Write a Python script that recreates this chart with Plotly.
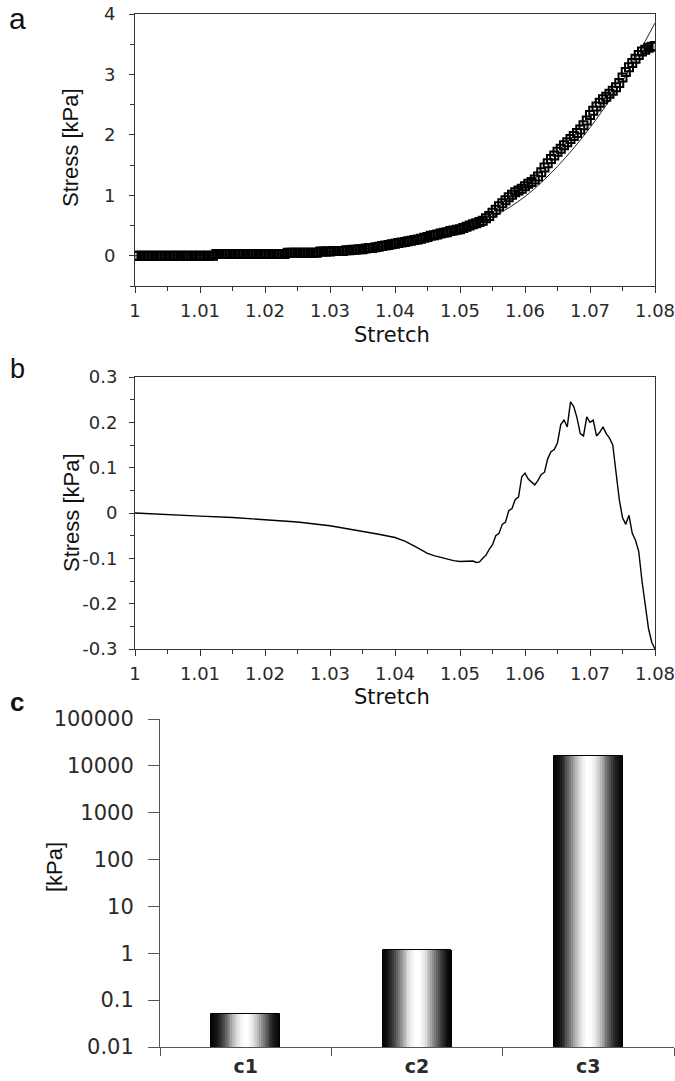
import plotly.graph_objects as go
import math

# ---------------- data ----------------
# Panel a: measured stress (markers) and fitted curve
stretch_a = [1.0000, 1.0005, 1.0010, 1.0015, 1.0020, 1.0025, 1.0030, 1.0035, 1.0040, 1.0045,
             1.0050, 1.0055, 1.0060, 1.0065, 1.0070, 1.0075, 1.0080, 1.0085, 1.0090, 1.0095,
             1.0100, 1.0105, 1.0110, 1.0115, 1.0120, 1.0125, 1.0130, 1.0135, 1.0140, 1.0145,
             1.0150, 1.0155, 1.0160, 1.0165, 1.0170, 1.0175, 1.0180, 1.0185, 1.0190, 1.0195,
             1.0200, 1.0205, 1.0210, 1.0215, 1.0220, 1.0225, 1.0230, 1.0235, 1.0240, 1.0245,
             1.0250, 1.0255, 1.0260, 1.0265, 1.0270, 1.0275, 1.0280, 1.0285, 1.0290, 1.0295,
             1.0300, 1.0305, 1.0310, 1.0315, 1.0320, 1.0325, 1.0330, 1.0335, 1.0340, 1.0345,
             1.0350, 1.0355, 1.0360, 1.0365, 1.0370, 1.0375, 1.0380, 1.0385, 1.0390, 1.0395,
             1.0400, 1.0405, 1.0410, 1.0415, 1.0420, 1.0425, 1.0430, 1.0435, 1.0440, 1.0445,
             1.0450, 1.0455, 1.0460, 1.0465, 1.0470, 1.0475, 1.0480, 1.0485, 1.0490, 1.0495,
             1.0500, 1.0505, 1.0510, 1.0515, 1.0520, 1.0525, 1.0530, 1.0535, 1.0540, 1.0545,
             1.0550, 1.0555, 1.0560, 1.0565, 1.0570, 1.0575, 1.0580, 1.0585, 1.0590, 1.0595,
             1.0600, 1.0605, 1.0610, 1.0615, 1.0620, 1.0625, 1.0630, 1.0635, 1.0640, 1.0645,
             1.0650, 1.0655, 1.0660, 1.0665, 1.0670, 1.0675, 1.0680, 1.0685, 1.0690, 1.0695,
             1.0700, 1.0705, 1.0710, 1.0715, 1.0720, 1.0725, 1.0730, 1.0735, 1.0740, 1.0745,
             1.0750, 1.0755, 1.0760, 1.0765, 1.0770, 1.0775, 1.0780, 1.0785, 1.0790, 1.0795,
             1.0800]
stress_a = [0.00, 0.00, 0.00, 0.00, 0.00, 0.00, 0.00, 0.00, 0.00, 0.00,
            0.00, 0.00, 0.00, 0.00, 0.00, 0.00, 0.00, 0.00, 0.00, 0.00,
            0.00, 0.00, 0.00, 0.00, 0.00, 0.03, 0.03, 0.03, 0.03, 0.03,
            0.03, 0.03, 0.03, 0.03, 0.03, 0.03, 0.03, 0.03, 0.03, 0.03,
            0.03, 0.03, 0.03, 0.03, 0.03, 0.03, 0.03, 0.05, 0.05, 0.05,
            0.05, 0.05, 0.05, 0.05, 0.05, 0.05, 0.05, 0.07, 0.07, 0.07,
            0.07, 0.08, 0.08, 0.08, 0.08, 0.09, 0.09, 0.10, 0.10, 0.11,
            0.11, 0.12, 0.13, 0.13, 0.14, 0.15, 0.16, 0.17, 0.18, 0.19,
            0.20, 0.21, 0.22, 0.23, 0.24, 0.25, 0.26, 0.27, 0.28, 0.30,
            0.31, 0.33, 0.34, 0.35, 0.37, 0.38, 0.39, 0.41, 0.42, 0.43,
            0.44, 0.46, 0.48, 0.50, 0.52, 0.54, 0.56, 0.58, 0.62, 0.66,
            0.71, 0.76, 0.82, 0.87, 0.92, 0.97, 1.01, 1.05, 1.08, 1.11,
            1.15, 1.19, 1.22, 1.26, 1.31, 1.38, 1.46, 1.53, 1.60, 1.66,
            1.72, 1.77, 1.83, 1.88, 1.93, 1.98, 2.03, 2.09, 2.16, 2.24,
            2.33, 2.40, 2.47, 2.53, 2.59, 2.63, 2.68, 2.73, 2.79, 2.86,
            2.95, 3.04, 3.12, 3.19, 3.26, 3.32, 3.38, 3.41, 3.44, 3.46,
            3.47]
stretch_fit = [1.000, 1.010, 1.020, 1.030, 1.035, 1.040, 1.045, 1.050, 1.055,
               1.060, 1.065, 1.070, 1.075, 1.080]
stress_fit = [0.00, 0.01, 0.03, 0.07, 0.11, 0.18, 0.28, 0.42, 0.64,
              0.98, 1.48, 2.12, 2.90, 3.85]

# Panel b: difference curve
stretch_b = [1.000, 1.005, 1.010, 1.015, 1.020, 1.025, 1.030, 1.0325, 1.035, 1.0375,
             1.040, 1.0415, 1.043, 1.044, 1.045, 1.046, 1.047, 1.048, 1.049, 1.050,
             1.051, 1.052, 1.0525, 1.053, 1.0535, 1.054, 1.0545, 1.055, 1.0555, 1.056,
             1.0565, 1.057, 1.0575, 1.058, 1.0585, 1.059, 1.0595, 1.060, 1.0605, 1.061,
             1.0615, 1.062, 1.0625, 1.063, 1.0635, 1.064, 1.0645, 1.065, 1.0655, 1.066,
             1.0665, 1.067, 1.0675, 1.068, 1.0685, 1.069, 1.0695, 1.070, 1.0705, 1.071,
             1.0715, 1.072, 1.0725, 1.073, 1.0735, 1.074, 1.0745, 1.075, 1.0755, 1.076,
             1.0765, 1.077, 1.0775, 1.078, 1.0785, 1.079, 1.0795, 1.080]
stress_b = [0.000, -0.004, -0.007, -0.010, -0.015, -0.020, -0.028, -0.034, -0.041, -0.047,
            -0.054, -0.062, -0.073, -0.081, -0.089, -0.094, -0.098, -0.101, -0.105, -0.107,
            -0.106, -0.106, -0.109, -0.108, -0.100, -0.093, -0.080, -0.070, -0.050, -0.045,
            -0.025, -0.020, 0.005, 0.010, 0.030, 0.035, 0.080, 0.088, 0.075, 0.068,
            0.062, 0.072, 0.085, 0.090, 0.120, 0.135, 0.140, 0.155, 0.195, 0.205,
            0.190, 0.245, 0.235, 0.210, 0.175, 0.170, 0.212, 0.200, 0.205, 0.170,
            0.178, 0.190, 0.175, 0.165, 0.150, 0.090, 0.030, -0.010, -0.025, -0.005,
            -0.045, -0.060, -0.085, -0.150, -0.205, -0.255, -0.285, -0.300]

# Panel c: parameters (log scale)
categories_c = ["c1", "c2", "c3"]
values_c = [0.05, 1.15, 16000]

# tick labels
xtick_vals = [1.00, 1.01, 1.02, 1.03, 1.04, 1.05, 1.06, 1.07, 1.08]
xtick_text = ["1", "1.01", "1.02", "1.03", "1.04", "1.05", "1.06", "1.07", "1.08"]
ytick_a_vals = [0, 1, 2, 3, 4]
ytick_a_text = ["0", "1", "2", "3", "4"]
ytick_b_vals = [-0.3, -0.2, -0.1, 0, 0.1, 0.2, 0.3]
ytick_b_text = ["-0.3", "-0.2", "-0.1", "0", "0.1", "0.2", "0.3"]
ytick_c_vals = [0.01, 0.1, 1, 10, 100, 1000, 10000, 100000]
ytick_c_text = ["0.01", "0.1", "1", "10", "100", "1000", "10000", "100000"]

# ---------------- figure ----------------
W, H = 675, 1081
TICKFONT = dict(family="DejaVu Sans", size=18, color="#2a2a2a")
LINE = "#333333"

fig = go.Figure()

# panel a
fig.add_trace(go.Scatter(x=stretch_fit, y=stress_fit, mode="lines", line=dict(color="#222", width=1, shape="spline"),
                         xaxis="x", yaxis="y", showlegend=False))
fig.add_trace(go.Scatter(x=stretch_a, y=stress_a, mode="markers",
                         marker=dict(symbol="square-open", size=8, color="black", line=dict(width=2, color="black")),
                         xaxis="x", yaxis="y", showlegend=False))

# panel b
fig.add_trace(go.Scatter(x=stretch_b, y=stress_b, mode="lines", line=dict(color="black", width=1.4),
                         xaxis="x2", yaxis="y2", showlegend=False))

# panel c: cylindrical gradient bars made of thin vertical strips
N = 36
bar_w = 0.4
for i in range(N):
    t = (i + 0.5) / N
    g = int(round(8 + 247 * math.sin(math.pi * t) ** 2))
    col = f"rgb({g},{g},{g})"
    fig.add_trace(go.Bar(x=categories_c, y=values_c, xaxis="x3", yaxis="y3",
                         width=bar_w / N * 1.15, offset=-bar_w / 2 + i * bar_w / N,
                         marker=dict(color=col, line=dict(width=0)), showlegend=False))
fig.add_trace(go.Bar(x=categories_c, y=values_c, xaxis="x3", yaxis="y3",
                     width=bar_w, offset=-bar_w / 2,
                     marker=dict(color="rgba(0,0,0,0)", line=dict(width=1, color="black")), showlegend=False))

def py(pix):
    return 1 - pix / H

def px(pix):
    return pix / W

common_x = dict(range=[1.0, 1.08], tickvals=xtick_vals, ticktext=xtick_text, ticks="outside", ticklen=6,
                tickcolor=LINE, tickwidth=1, showline=True, linecolor=LINE, linewidth=1, mirror=True,
                showgrid=False, zeroline=False, tickfont=TICKFONT, ticklabelstandoff=2, automargin=False,
                ticklabeloverflow="allow",
                minor=dict(ticks="outside", ticklen=4, dtick=0.005, tick0=1.0, tickcolor=LINE, showgrid=False))

fig.update_layout(
    width=W, height=H, margin=dict(l=0, r=0, t=0, b=0, autoexpand=False),
    paper_bgcolor="white", plot_bgcolor="white", barmode="overlay", bargap=0,
    xaxis=dict(domain=[px(135), px(655)], anchor="y", **common_x),
    yaxis=dict(domain=[py(286), py(14)], anchor="x", range=[-0.5, 4], tickvals=ytick_a_vals, ticktext=ytick_a_text,
               ticks="outside", ticklen=5, tickcolor=LINE, showline=True, linecolor=LINE, linewidth=1, mirror=True,
               showgrid=False, zeroline=False, tickfont=TICKFONT, ticklabelstandoff=10, automargin=False,
               ticklabeloverflow="allow",
               minor=dict(ticks="outside", ticklen=4, dtick=0.5, tick0=0, tickcolor=LINE, showgrid=False)),
    xaxis2=dict(domain=[px(135), px(655)], anchor="y2", **common_x),
    yaxis2=dict(domain=[py(649), py(377)], anchor="x2", range=[-0.3, 0.3], tickvals=ytick_b_vals, ticktext=ytick_b_text,
                ticks="outside", ticklen=5, tickcolor=LINE, showline=True, linecolor=LINE, linewidth=1, mirror=True,
                showgrid=False, zeroline=False, tickfont=TICKFONT, ticklabelstandoff=8, automargin=False,
                ticklabeloverflow="allow",
                minor=dict(ticks="outside", ticklen=4, dtick=0.05, tick0=0, tickcolor=LINE, showgrid=False)),
    xaxis3=dict(domain=[px(160), px(674)], anchor="y3", type="category", range=[-0.5, 2.5],
                ticks="outside", tickson="boundaries", ticklen=8, tickcolor="#555", showline=True, linecolor="#555",
                linewidth=1, showgrid=False, zeroline=False, automargin=False, ticklabeloverflow="allow",
                tickfont=dict(family="DejaVu Sans", size=19, color="#2a2a2a", weight="bold"), ticklabelstandoff=2),
    yaxis3=dict(domain=[py(1047), py(719)], anchor="x3", type="log", range=[-2, 5],
                tickvals=ytick_c_vals, ticktext=ytick_c_text, ticks="outside", ticklen=11, tickcolor="#555",
                showline=True, linecolor="#555", linewidth=1, showgrid=False, zeroline=False, automargin=False,
                ticklabeloverflow="allow",
                tickfont=dict(family="DejaVu Sans", size=21, color="#2a2a2a"), ticklabelstandoff=10),
)

ann_font_title = dict(family="Liberation Sans, Arial", size=22, color="#111")
annotations = [
    dict(text="a", x=px(17), y=py(19), font=dict(family="Liberation Sans, Arial", size=30, color="#111")),
    dict(text="b", x=px(17), y=py(369), font=dict(family="Liberation Sans, Arial", size=27, color="#111")),
    dict(text="c", x=px(17), y=py(702), font=dict(family="Liberation Sans, Arial", size=26, color="#111", weight="bold")),
    dict(text="Stretch", x=px(392), y=py(335), font=dict(family="DejaVu Sans", size=21, color="#111")),
    dict(text="Stretch", x=px(392), y=py(697), font=dict(family="DejaVu Sans", size=21, color="#111")),
    dict(text="Stress [kPa]", x=px(71), y=py(148), textangle=-90, font=ann_font_title),
    dict(text="Stress [kPa]", x=px(71), y=py(513), textangle=-90, font=ann_font_title),
    dict(text="[kPa]", x=px(54), y=py(867), textangle=-90, font=dict(family="Liberation Sans, Arial", size=22, color="#111")),
]
for a in annotations:
    a.update(xref="paper", yref="paper", showarrow=False, xanchor="center", yanchor="middle")
fig.update_layout(annotations=annotations)

fig.write_html("out.html")
